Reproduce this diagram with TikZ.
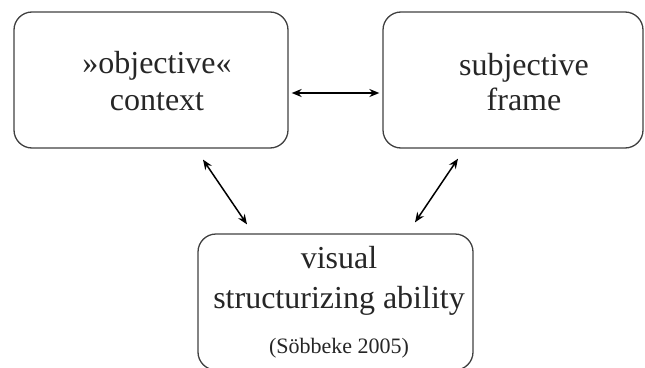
\documentclass[tikz,border=0pt]{standalone}
\usepackage{fontspec}
\setmainfont{Liberation Serif}
\usetikzlibrary{arrows.meta}
\begin{document}
\begin{tikzpicture}[x=1pt,y=-1pt,
  box/.style={draw=black!75,line width=1.3pt,rounded corners=18pt,minimum height=136pt,inner sep=0pt},
  txt/.style={anchor=base,inner sep=0pt,font=\fontsize{32}{36}\selectfont,text=black!85},
  small/.style={anchor=base,inner sep=0pt,font=\fontsize{22}{26}\selectfont,text=black!85},
  arr/.style={line width=1.5pt,{Stealth[length=10pt,width=8pt]}-{Stealth[length=10pt,width=8pt]}}]
\useasboundingbox (0,0) rectangle (645,367);
\clip (0,0) rectangle (645,367);
\node[box,minimum width=274pt] (L) at (151,80) {};
\node[box,minimum width=260pt] (R) at (513,80) {};
\node[box,minimum width=275pt] (B) at (335.5,302) {};
\node[txt] (l1) at (157,73) {»objective«};
\node[txt] (l2) at (157,110) {context};
\node[txt] (r1) at (524,75) {subjective};
\node[txt] (r2) at (524,110) {frame};
\node[txt] (b1) at (339,268) {visual};
\node[txt] (b2) at (339,308) {structurizing ability};
\node[small] (b3) at (339,353) {(Söbbeke 2005)};
\draw[arr] ([shift={(3,13)}]L.east) -- ([shift={(-3,13)}]R.west);
\draw[arr] ([shift={(52,11)}]L.south) -- ([shift={(-88.5,-9)}]B.north);
\draw[arr] ([shift={(-55,10)}]R.south) -- ([shift={(79.5,-11)}]B.north);
\end{tikzpicture}
\end{document}
